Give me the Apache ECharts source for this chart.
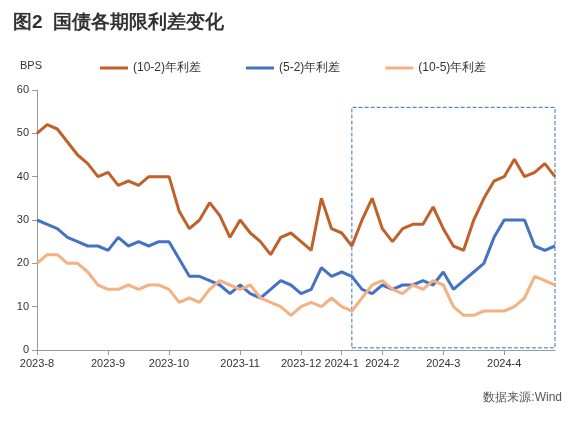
<!DOCTYPE html><html><head><meta charset="utf-8"><script src="https://cdn.jsdelivr.net/npm/echarts@6/dist/echarts.min.js"></script></head><body style="margin:0"><div id="c" style="width:584px;height:424px"></div><script>
const monthLabels={0:'2023-8',7:'2023-9',13:'2023-10',20:'2023-11',26:'2023-12',30:'2024-1',34:'2024-2',40:'2024-3',46:'2024-4'};
const s102=[50,52,51,48,45,43,40,41,38,39,38,40,40,40,32,28,30,34,31,26,30,27,25,22,26,27,25,23,35,28,27,24,30,35,28,25,28,29,29,33,28,24,23,30,35,39,40,44,40,41,43,40];
const s52=[30,29,28,26,25,24,24,23,26,24,25,24,25,25,21,17,17,16,15,13,15,13,12,14,16,15,13,14,19,17,18,17,14,13,15,14,15,15,16,15,18,14,16,18,20,26,30,30,30,24,23,24];
const s105=[20,22,22,20,20,18,15,14,14,15,14,15,15,14,11,12,11,14,16,15,14,15,12,11,10,8,10,11,10,12,10,9,12,15,16,14,13,15,14,16,15,10,8,8,9,9,9,10,12,17,16,15];
const cats=s102.map((_,i)=>monthLabels[i]||('p'+i));
const show=i=>monthLabels[i]!==undefined;
const ch=echarts.init(document.getElementById('c'));
const mk=(n,d,c)=>({name:n,type:'line',data:d,symbol:'none',lineStyle:{width:3,color:c},itemStyle:{color:c}});
const s1=mk('(10-2)年利差',s102,'#c0602a');
s1.markArea={silent:true,itemStyle:{color:'rgba(0,0,0,0)',borderColor:'#3a6fb5',borderWidth:1,borderType:'dashed'},data:[[{xAxis:30.7,yAxis:0.5},{xAxis:51,yAxis:56}]]};
ch.setOption({animation:false,
title:{text:'图2  国债各期限利差变化',left:8,top:8,textStyle:{fontSize:19,fontWeight:'bold',color:'#333'}},
graphic:[{type:'text',left:20,top:60,style:{text:'BPS',fontSize:11,fill:'#333'}},{type:'text',right:22,top:392,style:{text:'数据来源:Wind',fontSize:12,fill:'#555'}}],
legend:{top:57,left:95,itemGap:45,itemWidth:28,itemHeight:3,icon:'rect',textStyle:{fontSize:12,color:'#333'}},
grid:{left:37,right:29,top:90,bottom:74},
xAxis:{type:'category',data:cats,boundaryGap:false,axisLine:{lineStyle:{color:'#999'}},axisTick:{interval:show,inside:false,lineStyle:{color:'#999'}},axisLabel:{interval:show,formatter:v=>v.startsWith('p')?'':v,fontSize:11,color:'#333'}},
yAxis:{type:'value',min:0,max:60,interval:10,splitLine:{show:false},axisLine:{show:true,lineStyle:{color:'#999'}},axisTick:{show:true},axisLabel:{fontSize:11,color:'#333'}},
series:[s1,mk('(5-2)年利差',s52,'#4472c4'),mk('(10-5)年利差',s105,'#f4b183')]});
</script></body></html>
